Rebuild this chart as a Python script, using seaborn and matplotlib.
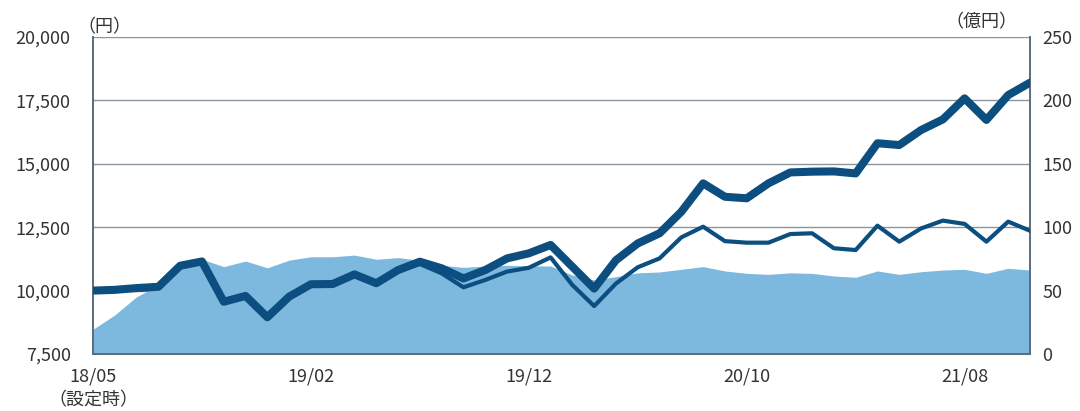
import pandas as pd
import matplotlib
matplotlib.use("Agg")
import matplotlib.pyplot as plt
import seaborn as sns

sns.set_theme(style="white")
plt.rcParams["font.family"] = ["Noto Sans CJK JP", "DejaVu Sans"]

# --- data -------------------------------------------------------------------
# 基準価額（分配金再投資）: thick line, left axis (円)
nav_reinvest = [
    10000, 10030, 10100, 10150, 10980, 11150, 9560, 9790, 8950, 9760,
    10250, 10260, 10640, 10290, 10810, 11140, 10880, 10480, 10810, 11270,
    11470, 11800, 10940, 10080, 11200, 11860, 12260, 13110, 14230, 13700,
    13640, 14230, 14660, 14690, 14700, 14620, 15810, 15740, 16330, 16750,
    17580, 16730, 17710, 18200,
]
# 基準価額: thin line, left axis (円)
nav = [
    10000, 10030, 10100, 10150, 10980, 11150, 9560, 9790, 8950, 9760,
    10250, 10260, 10640, 10290, 10760, 11050, 10680, 10130, 10420, 10750,
    10900, 11310, 10220, 9390, 10280, 10920, 11270, 12100, 12520, 11950,
    11890, 11890, 12230, 12260, 11670, 11600, 12560, 11930, 12450, 12760,
    12630, 11930, 12720, 12360,
]
# 純資産総額: area, right axis (億円)
net_assets = [
    19.5, 30.8, 45.2, 54.0, 68.0, 74.7, 68.9, 73.3, 68.0, 74.0,
    76.7, 76.7, 78.0, 74.7, 76.0, 74.0, 70.0, 68.3, 69.4, 70.0,
    69.5, 69.4, 62.3, 58.4, 61.0, 64.0, 64.7, 66.8, 68.9, 65.5,
    63.6, 62.8, 64.0, 63.6, 61.5, 60.5, 65.5, 62.8, 64.9, 66.2,
    66.8, 63.6, 67.6, 66.2,
]
tick_pos = [0, 10, 20, 30, 40]
tick_labels = ["18/05\n（設定時）", "19/02", "19/12", "20/10", "21/08"]
left_ticks = [7500, 10000, 12500, 15000, 17500, 20000]
right_ticks = [0, 50, 100, 150, 200, 250]

df = pd.DataFrame({
    "idx": range(len(nav)),
    "nav_reinvest": nav_reinvest,
    "nav": nav,
    "net_assets": net_assets,
})

# --- figure -----------------------------------------------------------------
area_color = "#7DB9DF"
line_color = "#0B4E7F"
spine_color = "#5B6B7B"
grid_color = "#8A949E"
text_color = "#333333"

fig, ax_r = plt.subplots(figsize=(10.8, 4.11), dpi=100)
fig.subplots_adjust(left=93 / 1080, right=1030 / 1080,
                    top=1 - 37 / 411, bottom=1 - 354 / 411)
ax_l = ax_r.twinx()
# the left axis (lines) sits on top of the right axis (area)
ax_l.yaxis.tick_left()
ax_l.yaxis.set_label_position("left")
ax_r.yaxis.tick_right()
ax_r.yaxis.set_label_position("right")
ax_l.set_zorder(ax_r.get_zorder() + 1)
ax_l.patch.set_visible(False)

# area (net assets)
ax_r.fill_between(df["idx"], 0, df["net_assets"], color=area_color,
                  linewidth=0, zorder=2)
ax_r.set_ylim(0, 250)
ax_r.set_yticks(right_ticks)
ax_r.set_yticklabels([str(t) for t in right_ticks])
for t in right_ticks:
    ax_r.axhline(t, color=grid_color, linewidth=1.0, zorder=1)

# lines
sns.lineplot(data=df, x="idx", y="nav", ax=ax_l, color=line_color,
             linewidth=3.0, zorder=3)
sns.lineplot(data=df, x="idx", y="nav_reinvest", ax=ax_l, color=line_color,
             linewidth=5.8, zorder=4)
ax_l.set_ylim(7500, 20000)
ax_l.set_yticks(left_ticks)
ax_l.set_yticklabels([f"{t:,}" for t in left_ticks])

# x axis lives on the base axes (twinx hides it on ax_l)
ax_r.set_xlim(0, len(nav) - 1)
ax_r.set_xticks(tick_pos)
ax_r.set_xticklabels(tick_labels, linespacing=1.35)

for ax in (ax_l, ax_r):
    ax.set_xlabel("")
    ax.set_ylabel("")
    for side in ("left", "right", "bottom", "top"):
        ax.spines[side].set_color(spine_color)
        ax.spines[side].set_linewidth(1.2)
    ax.spines["top"].set_visible(False)

ax_l.tick_params(axis="y", length=0, pad=16, labelsize=13, colors=text_color)
ax_r.tick_params(axis="y", length=0, pad=9, labelsize=13, colors=text_color)
ax_r.tick_params(axis="x", direction="in", length=5, width=1,
                 color=spine_color, pad=10, labelsize=13, labelcolor=text_color)

fig.text(104 / 1080, 1 - 27 / 411, "（円）", fontsize=13, color=text_color,
         ha="center", va="center")
fig.text(981 / 1080, 1 - 22 / 411, "（億円）", fontsize=13, color=text_color,
         ha="center", va="center")

plt.savefig("out.png", dpi=100)
plt.close()
